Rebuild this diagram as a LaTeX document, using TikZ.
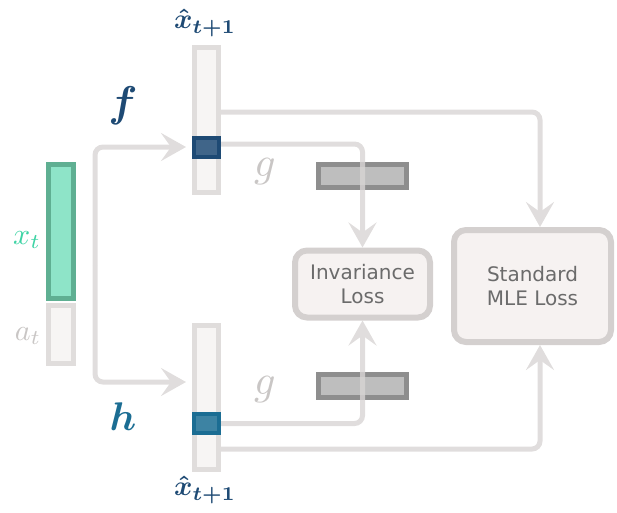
\documentclass[tikz,border=0pt]{standalone}
\usepackage{amsmath}
\usepackage{fontspec}
\setsansfont{DejaVu Sans}
\usetikzlibrary{arrows.meta}
\definecolor{linegray}{HTML}{D8D5D4}
\definecolor{barline}{HTML}{E0DDDC}
\definecolor{barfill}{HTML}{F7F5F4}
\definecolor{navy}{HTML}{1E4A74}
\definecolor{teal}{HTML}{1B6D93}
\definecolor{mint}{HTML}{8EE4C8}
\definecolor{mintline}{HTML}{5FAF92}
\definecolor{mintlabel}{HTML}{3DD3A4}
\definecolor{labelgray}{HTML}{C9C6C5}
\definecolor{boxline}{HTML}{D4D0CF}
\definecolor{boxfill}{HTML}{F6F2F1}
\definecolor{gline}{HTML}{8E8E8E}
\definecolor{gfill}{HTML}{BEBEBE}
\tikzset{
  bar/.style={draw=barline, fill=barfill, line width=5pt, inner sep=0pt},
  codeblk/.style={line width=4pt, inner sep=0pt, minimum width=25pt, minimum height=19pt},
  gbox/.style={draw=gline, fill=gfill, line width=5pt, inner sep=0pt,
               minimum width=88pt, minimum height=23pt},
  lossbox/.style={draw=boxline, fill=boxfill, line width=6pt, rounded corners=12pt,
                  inner sep=0pt, align=center, font=\sffamily\fontsize{20}{24}\selectfont,
                  text=black!58},
  conn/.style={draw=linegray, line width=5pt, rounded corners=8pt,
               -{Stealth[length=25pt,width=28pt,inset=10pt]}},
  mlabel/.style={inner sep=1pt}
}
\begin{document}
\begin{tikzpicture}[x=1pt,y=-1pt]
\useasboundingbox (0,0) rectangle (617,512);

% input vector: state and action
\node[draw=mintline, fill=mint, line width=5pt, inner sep=0pt,
      minimum width=25pt, minimum height=134pt] (xt) at (61,231.5) {};
\node[bar, minimum width=25pt, minimum height=58pt] (at) at (61,334.5) {};
\node[mlabel, text=mintlabel, scale=3] (xtl) at (27,240) {$x_t$};
\node[mlabel, text=labelgray, scale=3] (atl) at (28,336) {$a_t$};

% predicted next states
\node[bar, minimum width=24pt, minimum height=145pt] (tbar) at (206.5,120) {};
\node[codeblk, draw=navy, fill=navy!85!white] (tblk) at (206.5,147) {};
\node[bar, minimum width=24pt, minimum height=144pt] (bbar) at (206.5,397.5) {};
\node[codeblk, draw=teal, fill=teal!85!white] (bblk) at (206.5,423.5) {};

\node[mlabel, text=navy, scale=2.8] (tl) at (205,23) {$\boldsymbol{\hat{x}_{t+1}}$};
\node[mlabel, text=navy, scale=2.8] (bl) at (205,490) {$\boldsymbol{\hat{x}_{t+1}}$};
\node[mlabel, text=navy, scale=4.3] (fl) at (123,106) {$\boldsymbol{f}$};
\node[mlabel, text=teal, scale=4] (hl) at (123,417) {$\boldsymbol{h}$};

% projection heads
\node[gbox] (gtop) at (362.5,176) {};
\node[gbox] (gbot) at (362.5,385.5) {};
\node[mlabel, text=labelgray, scale=4.2] (gtl) at (265,172) {$g$};
\node[mlabel, text=labelgray, scale=4.2] (gbl) at (265,390) {$g$};

% losses
\node[lossbox, minimum width=135pt, minimum height=67pt] (inv) at (362.5,284) {Invariance\\Loss};
\node[lossbox, minimum width=157pt, minimum height=112pt] (mle) at (532.5,286) {Standard\\MLE Loss};

% connectors
\coordinate (split) at (95,265);
\begin{scope}[transparency group, opacity=0.8]
\draw[conn, shorten >=6pt] (split) |- (tblk.west);
\draw[conn, shorten >=6pt] (split) |- ([yshift=15.5pt]bbar.west);
\draw[conn] ([yshift=8pt]tbar.east) -| ([xshift=7.5pt]mle.north);
\draw[conn] ([yshift=3pt]tblk.east) -| (inv.north);
\draw[conn] (bblk.east) -| (inv.south);
\draw[conn] ([yshift=-51.5pt]bbar.east) -| ([xshift=7.5pt]mle.south);
\end{scope}
\end{tikzpicture}
\end{document}
